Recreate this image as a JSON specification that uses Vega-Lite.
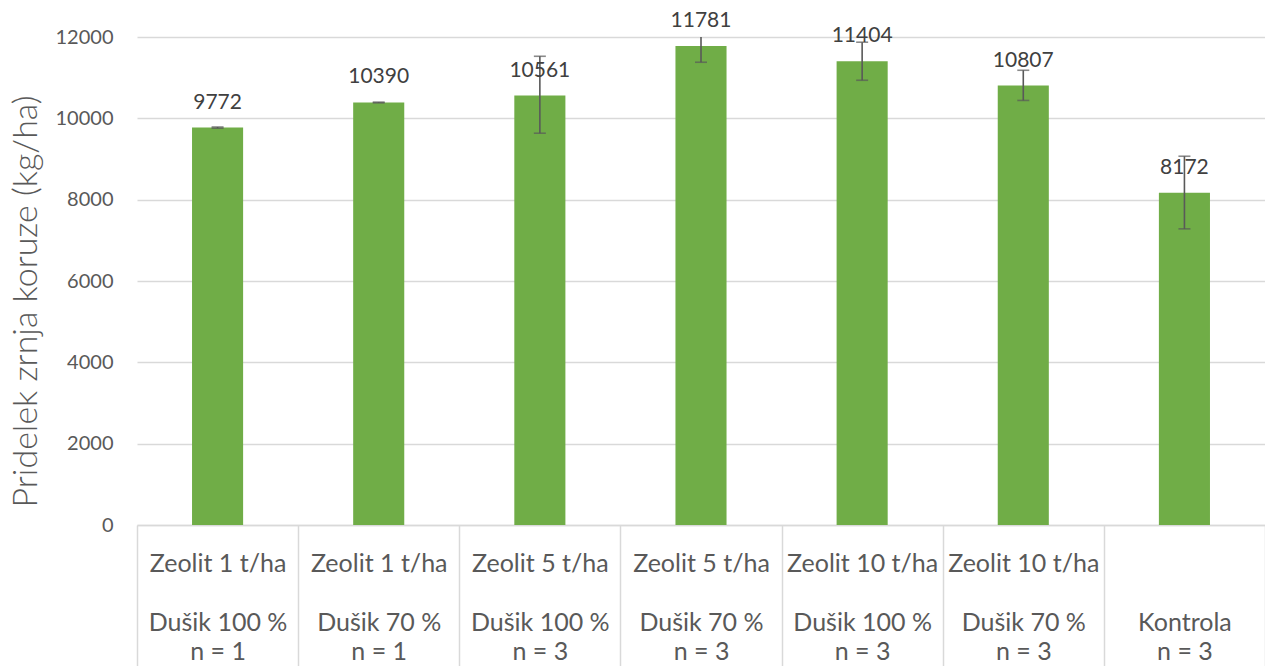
{
  "$schema": "https://vega.github.io/schema/vega-lite/v6.json",
  "width": 1128,
  "height": 488,
  "autosize": {"type": "none"},
  "padding": {"left": 137, "top": 37, "right": 0, "bottom": 141},
  "background": "white",
  "config": {
    "view": {"stroke": null},
    "font": "Lato"
  },
  "data": {
    "values": [
      {"skupina": "Zeolit 1 t/ha|\u2800|Dušik 100 %|n = 1", "pridelek": 9772, "lo": 9757, "hi": 9787},
      {"skupina": "Zeolit 1 t/ha|\u2800|Dušik 70 %|n = 1", "pridelek": 10390, "lo": 10381, "hi": 10399},
      {"skupina": "Zeolit 5 t/ha|\u2800|Dušik 100 %|n = 3", "pridelek": 10561, "lo": 9634, "hi": 11526},
      {"skupina": "Zeolit 5 t/ha|\u2800|Dušik 70 %|n = 3", "pridelek": 11781, "lo": 11379, "hi": 12183},
      {"skupina": "Zeolit 10 t/ha|\u2800|Dušik 100 %|n = 3", "pridelek": 11404, "lo": 10936, "hi": 11872},
      {"skupina": "Zeolit 10 t/ha|\u2800|Dušik 70 %|n = 3", "pridelek": 10807, "lo": 10440, "hi": 11182},
      {"skupina": "\u2800|\u2800|Kontrola|n = 3", "pridelek": 8172, "lo": 7282, "hi": 9068}
    ]
  },
  "encoding": {
    "x": {
      "field": "skupina",
      "type": "nominal",
      "sort": null,
      "scale": {"paddingInner": 0, "paddingOuter": 0},
      "axis": {
        "title": null,
        "labelAngle": 0,
        "labelExpr": "split(datum.label, '|')",
        "labelFont": "Lato",
        "labelFontSize": 25,
        "labelColor": "#595959",
        "labelLineHeight": 29.5,
        "labelBaseline": "alphabetic",
        "labelPadding": -95,
        "labelLimit": 0,
        "tickBand": "extent",
        "tickSize": 141,
        "tickColor": "#D9D9D9",
        "tickWidth": 1.5,
        "domainColor": "#D9D9D9",
        "domainWidth": 1.5
      }
    }
  },
  "layer": [
    {
      "mark": {"type": "bar", "color": "#70AD47", "width": {"band": 0.317}},
      "encoding": {
        "y": {
          "field": "pridelek",
          "type": "quantitative",
          "scale": {"domain": [0, 12000], "nice": false},
          "axis": {
            "title": "Pridelek zrnja koruze (kg/ha)",
            "titleFont": "Lato",
            "titleFontSize": 34,
            "titleFontWeight": 300,
            "titleColor": "#595959",
            "titlePadding": 12,
            "titleY": 264,
            "values": [0, 2000, 4000, 6000, 8000, 10000, 12000],
            "format": "d",
            "labelFont": "Lato",
            "labelFontSize": 20,
            "labelColor": "#595959",
            "labelPadding": 24,
            "ticks": false,
            "domain": false,
            "grid": true,
            "gridColor": "#D9D9D9",
            "gridWidth": 1.5
          }
        }
      }
    },
    {
      "mark": {"type": "rule", "color": "#595959", "strokeWidth": 1.6, "clip": true},
      "encoding": {
        "y": {"field": "lo", "type": "quantitative"},
        "y2": {"field": "hi"}
      }
    },
    {
      "mark": {"type": "tick", "color": "#595959", "thickness": 1.6, "size": 12, "clip": true, "orient": "horizontal"},
      "encoding": {
        "y": {"field": "lo", "type": "quantitative"}
      }
    },
    {
      "mark": {"type": "tick", "color": "#595959", "thickness": 1.6, "size": 12, "clip": true, "orient": "horizontal"},
      "encoding": {
        "y": {"field": "hi", "type": "quantitative"}
      }
    },
    {
      "mark": {"type": "text", "font": "Lato", "fontSize": 21, "color": "#404040", "baseline": "alphabetic", "dy": -19},
      "encoding": {
        "y": {"field": "pridelek", "type": "quantitative"},
        "text": {"field": "pridelek", "type": "quantitative", "format": "d"}
      }
    }
  ]
}
